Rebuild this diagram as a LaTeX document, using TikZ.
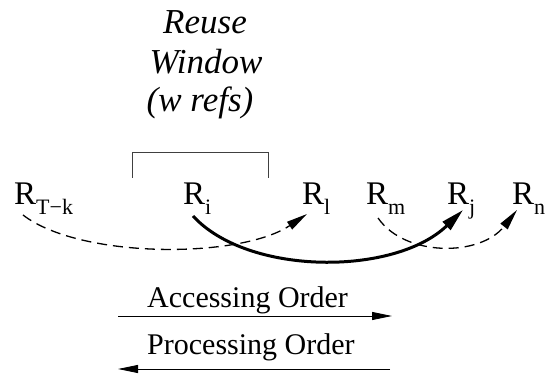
\documentclass[tikz,border=0pt]{standalone}
\usepackage{fontspec}
\setmainfont{Liberation Serif}
\usetikzlibrary{arrows.meta,calc}
\newcommand{\subtxt}[1]{\raisebox{-10pt}{\fontsize{22}{22}\selectfont #1}}
\begin{document}
\begin{tikzpicture}[x=1pt,y=1pt,
  lab/.style={inner sep=0pt,anchor=base west,font=\fontsize{33}{33}\selectfont},
  ital/.style={inner sep=0pt,anchor=base,font=\fontsize{35}{35}\selectfont\itshape},
  ordtxt/.style={inner sep=0pt,anchor=base west,font=\fontsize{30}{30}\selectfont},
  dasharc/.style={line width=1.3pt,dash pattern=on 10pt off 6pt,-{Triangle[length=21pt,width=9pt]}},
  solidarc/.style={line width=3pt,-{Triangle[length=23pt,width=11pt]}},
  ordarrow/.style={line width=0.9pt,-{Triangle[length=20pt,width=8pt]}},
  brack/.style={line width=0.8pt,draw=black!75}]
\useasboundingbox (0,0) rectangle (545,379);
% title
\node[ital] (t1) at (205,345) {Reuse};
\node[ital] (t2) at (206,305) {Window};
\node[ital] (t3) at (200,267) {(w refs)};
% bracket
\coordinate (b1) at (132,201);
\coordinate (b2) at (132,227);
\coordinate (b3) at (268,227);
\coordinate (b4) at (268,201);
\draw[brack] (b1) -- (b2) -- (b3) -- (b4);
% references
\node[lab] (rtk) at (14,174) {R\subtxt{T−k}};
\node[lab] (ri) at (183,174) {R\subtxt{i}};
\node[lab] (rl) at (302,174) {R\subtxt{l}};
\node[lab] (rm) at (366,174) {R\subtxt{m}};
\node[lab] (rj) at (447,174) {R\subtxt{j}};
\node[lab] (rn) at (512,174) {R\subtxt{n}};
% arcs
\draw[dasharc] ([shift={(9,-10)}]rtk.base west) .. controls (80,120) and (240,120) .. ([shift={(5,-9)}]rl.base west);
\draw[solidarc] ([shift={(10,-11)}]ri.base west) .. controls (248,103) and (395,103) .. ([shift={(16,-5)}]rj.base west);
\draw[dasharc] ([shift={(12,-13)}]rm.base west) .. controls (405,122) and (480,122) .. ([shift={(5,-5)}]rn.base west);
% orders
\node[ordtxt] (acc) at (147,71) {Accessing Order};
\node[ordtxt] (proc) at (147,24) {Processing Order};
\coordinate (a1) at (118,63);
\coordinate (a2) at (392,63);
\coordinate (p1) at (390,10);
\coordinate (p2) at (118,10);
\draw[ordarrow] (a1) -- (a2);
\draw[ordarrow] (p1) -- (p2);
\end{tikzpicture}
\end{document}
